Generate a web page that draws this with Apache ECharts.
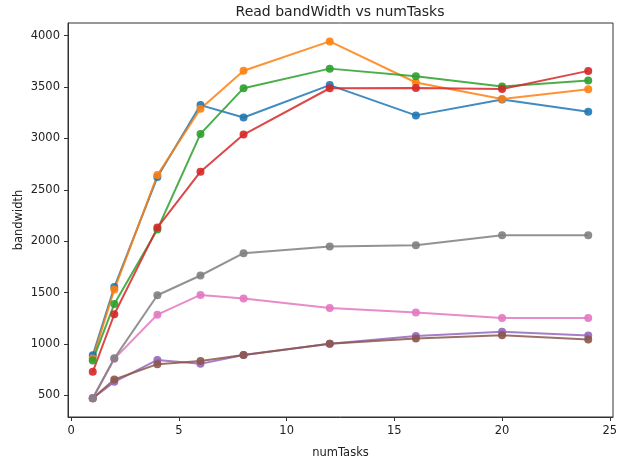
<!DOCTYPE html>
<html>
<head>
<meta charset="utf-8">
<script src="https://cdn.jsdelivr.net/npm/echarts@6/dist/echarts.min.js"></script>
<style>
html,body{margin:0;padding:0;background:#fff;}
#c{width:629px;height:464px;}
</style>
</head>
<body>
<div id="c"></div>
<script>
var numTasks = [1, 2, 4, 6, 8, 12, 16, 20, 24];
var blue   = [890, 1555, 2625, 3325, 3205, 3520, 3225, 3380, 3260];
var orange = [860, 1530, 2645, 3290, 3660, 3945, 3545, 3385, 3480];
var green  = [840, 1390, 2115, 3045, 3490, 3680, 3605, 3505, 3565];
var red    = [730, 1290, 2133, 2677, 3038, 3489, 3492, 3482, 3658];
var purple = [472, 632, 845, 807, 893, 1002, 1078, 1120, 1082];
var brown  = [472, 655, 804, 836, 893, 1002, 1053, 1085, 1044];
var pink   = [472, 857, 1286, 1478, 1443, 1350, 1308, 1254, 1254];
var gray   = [472, 861, 1475, 1667, 1884, 1948, 1961, 2059, 2059];
var xTicks = [0, 5, 10, 15, 20, 25];
var yTicks = [500, 1000, 1500, 2000, 2500, 3000, 3500, 4000];

var seriesList = [
  {name: 'series1', values: blue, color: '#1f77b4'},
  {name: 'series2', values: orange, color: '#ff7f0e'},
  {name: 'series3', values: green, color: '#2ca02c'},
  {name: 'series4', values: red, color: '#d62728'},
  {name: 'series5', values: purple, color: '#9467bd'},
  {name: 'series6', values: brown, color: '#8c564b'},
  {name: 'series7', values: pink, color: '#e377c2'},
  {name: 'series8', values: gray, color: '#7f7f7f'}
];

var font = 'DejaVu Sans';
var chart = echarts.init(document.getElementById('c'), null, {renderer: 'canvas'});
chart.setOption({
  animation: false,
  backgroundColor: '#ffffff',
  title: {
    text: 'Read bandWidth vs numTasks',
    left: 340, textAlign: 'center', top: 5, padding: 0,
    textStyle: {fontFamily: font, fontSize: 14, fontWeight: 'normal', color: '#222'}
  },
  grid: {left: 68, right: 16, top: 23, bottom: 41, show: true, borderColor: '#333', borderWidth: 1, backgroundColor: 'transparent'},
  xAxis: {
    type: 'value', min: -0.15, max: 25.15,
    name: 'numTasks', nameLocation: 'middle', nameGap: 30, nameMoveOverlap: false,
    nameTextStyle: {fontFamily: font, fontSize: 11.5, color: '#222'},
    axisLine: {show: true, onZero: false, lineStyle: {color: '#333', width: 1}},
    axisTick: {show: true, length: 4, customValues: xTicks, lineStyle: {color: '#333'}},
    axisLabel: {customValues: xTicks, margin: 8, fontFamily: font, fontSize: 11.5, color: '#222',
      formatter: function (v) { return String(v); }},
    splitLine: {show: false}
  },
  yAxis: {
    type: 'value', min: 290, max: 4124,
    name: 'bandwidth', nameLocation: 'middle', nameGap: 43, nameRotate: 90, nameMoveOverlap: false,
    nameTextStyle: {fontFamily: font, fontSize: 11.5, color: '#222'},
    axisLine: {show: true, onZero: false, lineStyle: {color: '#333', width: 1}},
    axisTick: {show: true, length: 4, customValues: yTicks, lineStyle: {color: '#333'}},
    axisLabel: {customValues: yTicks, margin: 8, fontFamily: font, fontSize: 11.5, color: '#222',
      formatter: function (v) { return String(v); }},
    splitLine: {show: false}
  },
  series: seriesList.map(function (s) {
    return {
      name: s.name, type: 'line',
      data: numTasks.map(function (x, i) { return [x, s.values[i]]; }),
      symbol: 'circle', symbolSize: 8,
      itemStyle: {color: s.color, opacity: 0.9},
      lineStyle: {color: s.color, width: 2, opacity: 0.85},
      emphasis: {disabled: true}
    };
  })
});
</script>
</body>
</html>
